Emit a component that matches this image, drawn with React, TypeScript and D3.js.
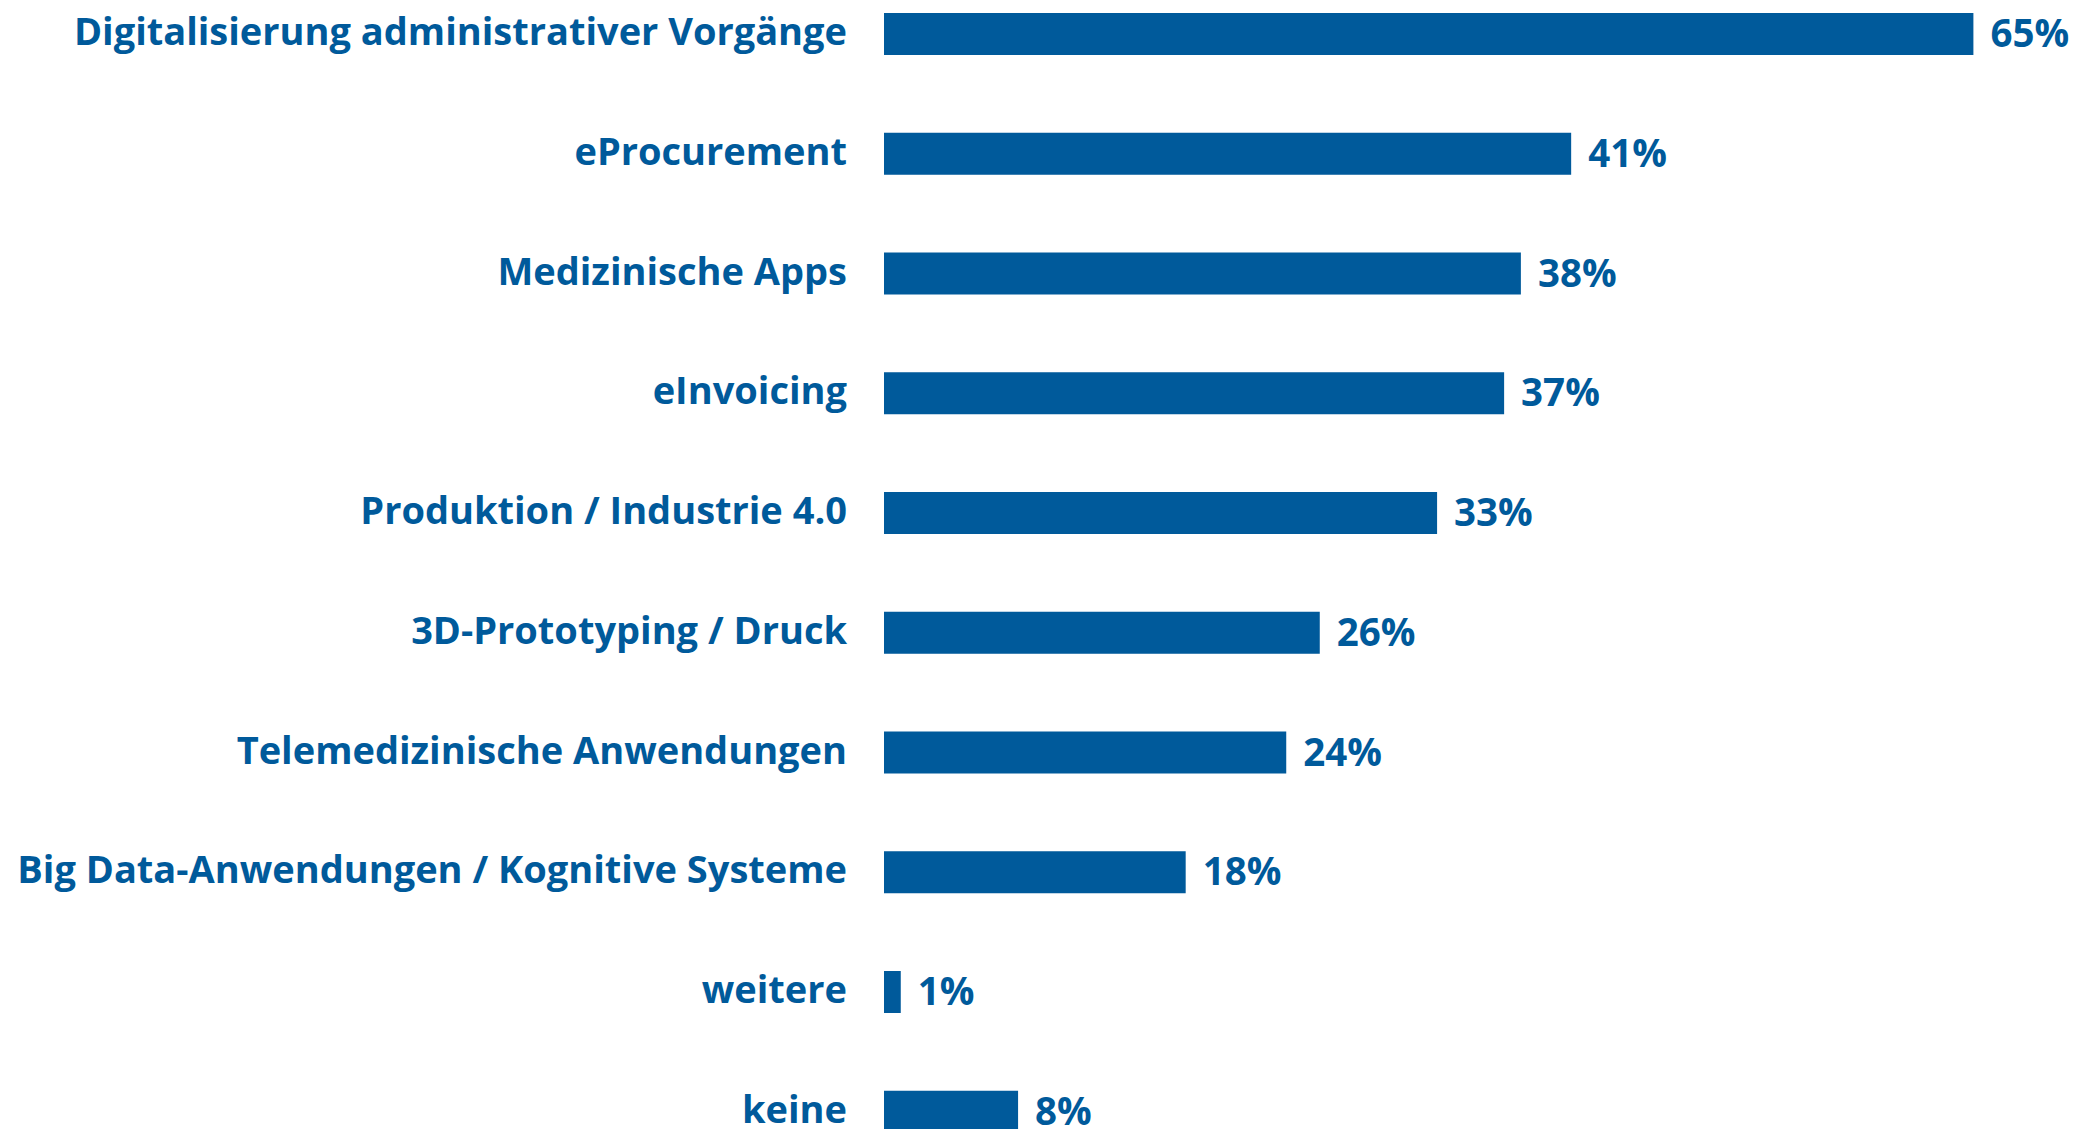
import React from "react";
import * as d3 from "d3";

const categories = [
  "Digitalisierung administrativer Vorgänge",
  "eProcurement",
  "Medizinische Apps",
  "eInvoicing",
  "Produktion / Industrie 4.0",
  "3D-Prototyping / Druck",
  "Telemedizinische Anwendungen",
  "Big Data-Anwendungen / Kognitive Systeme",
  "weitere",
  "keine",
];
const values = [65, 41, 38, 37, 33, 26, 24, 18, 1, 8];

const W = 2094;
const H = 1129;
const COLOR = "#005a9b";
const FONT = "'Open Sans', Lato, sans-serif";

export default function App() {
  const step = 119.75;
  const barH = 42;
  const pad = 1 - barH / step;
  const y = d3
    .scaleBand<string>()
    .domain(categories)
    .range([13, 13 + step * (categories.length - pad)])
    .paddingInner(pad)
    .paddingOuter(0);
  const x = d3.scaleLinear().domain([0, 100]).range([884, 884 + 1676]);

  return (
    <svg
      width={W}
      height={H}
      style={{ position: "absolute", left: 0, top: 0, display: "block", background: "#fff" }}
    >
      {categories.map((c, i) => {
        const y0 = y(c)!;
        const cy = y0 + y.bandwidth() / 2;
        return (
          <g key={c}>
            <text
              x={847}
              y={cy + 11}
              textAnchor="end"
              fontFamily={FONT}
              fontWeight={700}
              fontSize={38}
              fill={COLOR}
            >
              {c}
            </text>
            <rect x={x(0)} y={y0} width={x(values[i]) - x(0)} height={y.bandwidth()} fill={COLOR} />
            <text
              x={x(values[i]) + 17}
              y={cy + 13}
              fontFamily={FONT}
              fontWeight={700}
              fontSize={38.5}
              fill={COLOR}
            >
              {values[i]}%
            </text>
          </g>
        );
      })}
    </svg>
  );
}
